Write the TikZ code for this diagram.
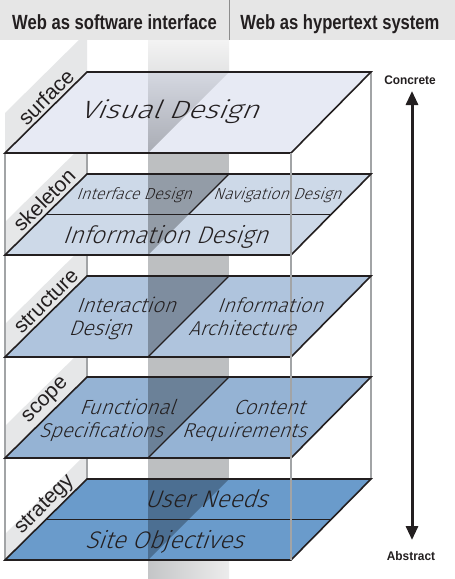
\documentclass[tikz,border=0pt]{standalone}
\usepackage{fontspec}
\setmainfont{Liberation Sans}
\newfontfamily\hdrfont[FakeStretch=0.81]{Liberation Sans}
\newfontfamily\endfont[FakeStretch=0.95]{Liberation Sans}
\newfontfamily\lblfont[FakeSlant=0.36]{Fira Sans Light}
\usetikzlibrary{arrows.meta}
\definecolor{ink}{HTML}{231F20}
\definecolor{hdrgray}{HTML}{E6E6E6}
\definecolor{hdrline}{HTML}{8C8C8C}
\definecolor{colgray}{HTML}{BDBFC1}
\definecolor{colhi}{HTML}{F3F3F3}
\definecolor{collo}{HTML}{ECECEC}
\definecolor{surfshhi}{HTML}{D5D8E1}
\definecolor{surfshlo}{HTML}{A9ACB4}
\definecolor{wallgray}{HTML}{E6E7E8}
\definecolor{vgray}{HTML}{A2A4A6}
\definecolor{csurface}{HTML}{E7EAF4}
\definecolor{cskeleton}{HTML}{CDD9E8}
\definecolor{cstructure}{HTML}{AFC4DD}
\definecolor{cscope}{HTML}{95B3D4}
\definecolor{cstrategy}{HTML}{6A9BCB}
\begin{document}
\begin{tikzpicture}[x=1pt,y=-1pt,
  planeedge/.style={draw=ink,line width=1.6pt,line join=miter},
  divline/.style={draw=ink,line width=1.4pt},
  vline/.style={draw=vgray,line width=1.8pt},
  wall/.style={fill=wallgray},
  shadow/.style={fill=black,fill opacity=0.28},
  layerlbl/.style={text=ink,rotate=45,font=\fontsize{21}{21}\selectfont,inner sep=0pt},
  ptext/.style={text=ink,anchor=base,inner sep=0pt},
  hdr/.style={text=ink,anchor=base,inner sep=0pt,font=\hdrfont\bfseries\fontsize{20.5}{20.5}\selectfont},
  endlbl/.style={text=ink,anchor=base,inner sep=0pt,font=\endfont\bfseries\fontsize{12.5}{12.5}\selectfont},
  arr/.style={draw=ink,line width=3pt,{Triangle[width=12pt,length=14pt]}-{Triangle[width=12pt,length=14pt]}}
]
\useasboundingbox (0,0) rectangle (455,579);
\fill[white] (0,0) rectangle (455,579);

% translucent column
\fill[colgray] (148,40) rectangle (229,579);
\shade[top color=colhi,bottom color=colgray] (148,40) rectangle (229,153);
\shade[left color=colgray!90!white,right color=collo] (148,560) rectangle (229,579);

% left walls
\fill[wall] (5,153) -- (87,72) -- (87,32) -- (5,113) -- cycle;
\fill[wall] (5,255) -- (87,174) -- (87,141) -- (5,222) -- cycle;
\fill[wall] (5,357) -- (87,276) -- (87,243) -- (5,324) -- cycle;
\fill[wall] (5,458) -- (87,377) -- (87,345) -- (5,426) -- cycle;
\fill[wall] (5,560) -- (87,479) -- (87,453) -- (5,534) -- cycle;

% back/left vertical edges
\draw[vline] (5,153) -- (5,560);
\draw[vline] (87,72) -- (87,479);
\draw[vline] (371,72) -- (371,479);

% surface
\fill[csurface] (5,153) -- (291,153) -- (371,72) -- (87,72) -- cycle;
\shade[top color=surfshhi,bottom color=surfshlo] (148,72) -- (229,72) -- (148,153) -- cycle;
\draw[planeedge] (5,153) -- (291,153) -- (371,72) -- (87,72) -- cycle;

% skeleton
\fill[cskeleton] (5,255) -- (291,255) -- (371,174) -- (87,174) -- cycle;
\fill[shadow] (148,174) -- (229,174) -- (148,255) -- cycle;
\draw[divline] (46,214.5) -- (332,214.5);
\draw[divline] (229,174) -- (188.5,214.5);
\draw[planeedge] (5,255) -- (291,255) -- (371,174) -- (87,174) -- cycle;

% structure
\fill[cstructure] (5,357) -- (291,357) -- (371,276) -- (87,276) -- cycle;
\fill[shadow] (148,276) -- (229,276) -- (148,357) -- cycle;
\draw[divline] (229,276) -- (148,357);
\draw[planeedge] (5,357) -- (291,357) -- (371,276) -- (87,276) -- cycle;

% scope
\fill[cscope] (5,458) -- (291,458) -- (371,377) -- (87,377) -- cycle;
\fill[shadow] (148,377) -- (229,377) -- (148,458) -- cycle;
\draw[divline] (229,377) -- (148,458);
\draw[planeedge] (5,458) -- (291,458) -- (371,377) -- (87,377) -- cycle;

% strategy
\fill[cstrategy] (5,560) -- (291,560) -- (371,479) -- (87,479) -- cycle;
\fill[shadow] (148,479) -- (229,479) -- (148,560) -- cycle;
\draw[divline] (46,519.5) -- (332,519.5);
\draw[planeedge] (5,560) -- (291,560) -- (371,479) -- (87,479) -- cycle;

% front right edge
\draw[vline] (291,153) -- (291,560);

% plane texts
\node[ptext,font=\lblfont\fontsize{25}{25}\selectfont] (tvisual) at (169,118) {\scalebox{1.2}[1]{Visual Design}};
\node[ptext,font=\lblfont\fontsize{16}{16}\selectfont] (tinterface) at (134,199) {Interface Design};
\node[ptext,font=\lblfont\fontsize{16}{16}\selectfont] (tnavigation) at (277,199) {Navigation Design};
\node[ptext,font=\lblfont\fontsize{24}{24}\selectfont] (tinfodesign) at (165,243) {Information Design};
\node[ptext,font=\lblfont\fontsize{20.5}{20.5}\selectfont] (tinteraction) at (126,312) {Interaction};
\node[ptext,font=\lblfont\fontsize{21}{21}\selectfont] (tdesign) at (100,335) {Design};
\node[ptext,font=\lblfont\fontsize{20}{20}\selectfont] (tinformation) at (270,312) {Information};
\node[ptext,font=\lblfont\fontsize{20}{20}\selectfont] (tarchitecture) at (242,335) {Architecture};
\node[ptext,font=\lblfont\fontsize{20.5}{20.5}\selectfont] (tfunctional) at (127,414) {Functional};
\node[ptext,font=\lblfont\fontsize{20}{20}\selectfont] (tspecs) at (101,437) {Specifications};
\node[ptext,font=\lblfont\fontsize{20.5}{20.5}\selectfont] (tcontent) at (269,414) {Content};
\node[ptext,font=\lblfont\fontsize{20}{20}\selectfont] (trequirements) at (244,437) {Requirements};
\node[ptext,font=\lblfont\fontsize{24}{24}\selectfont] (tuserneeds) at (206,507) {User Needs};
\node[ptext,font=\lblfont\fontsize{24}{24}\selectfont] (tsiteobj) at (164,548) {Site Objectives};

% layer labels on walls
\node[layerlbl] (lsurface) at (46,97) {surface};
\node[layerlbl] (lskeleton) at (44,200) {skeleton};
\node[layerlbl] (lstructure) at (46,301) {structure};
\node[layerlbl] (lscope) at (46,401) {scope};
\node[layerlbl] (lstrategy) at (45,505) {strategy};

% header
\fill[hdrgray] (0,0) rectangle (455,40);
\draw[draw=hdrline,line width=1pt] (229,0) -- (229,40);
\node[hdr] (hleft) at (114.5,29) {Web as software interface};
\node[hdr] (hright) at (340,29) {Web as hypertext system};

% concrete / abstract arrow
\node[endlbl] (concrete) at (410,84) {Concrete};
\node[endlbl] (abstract) at (411,560) {Abstract};
\coordinate (atop) at (412,91);
\coordinate (abot) at (412,540);
\draw[arr] (atop) -- (abot);
\end{tikzpicture}
\end{document}
